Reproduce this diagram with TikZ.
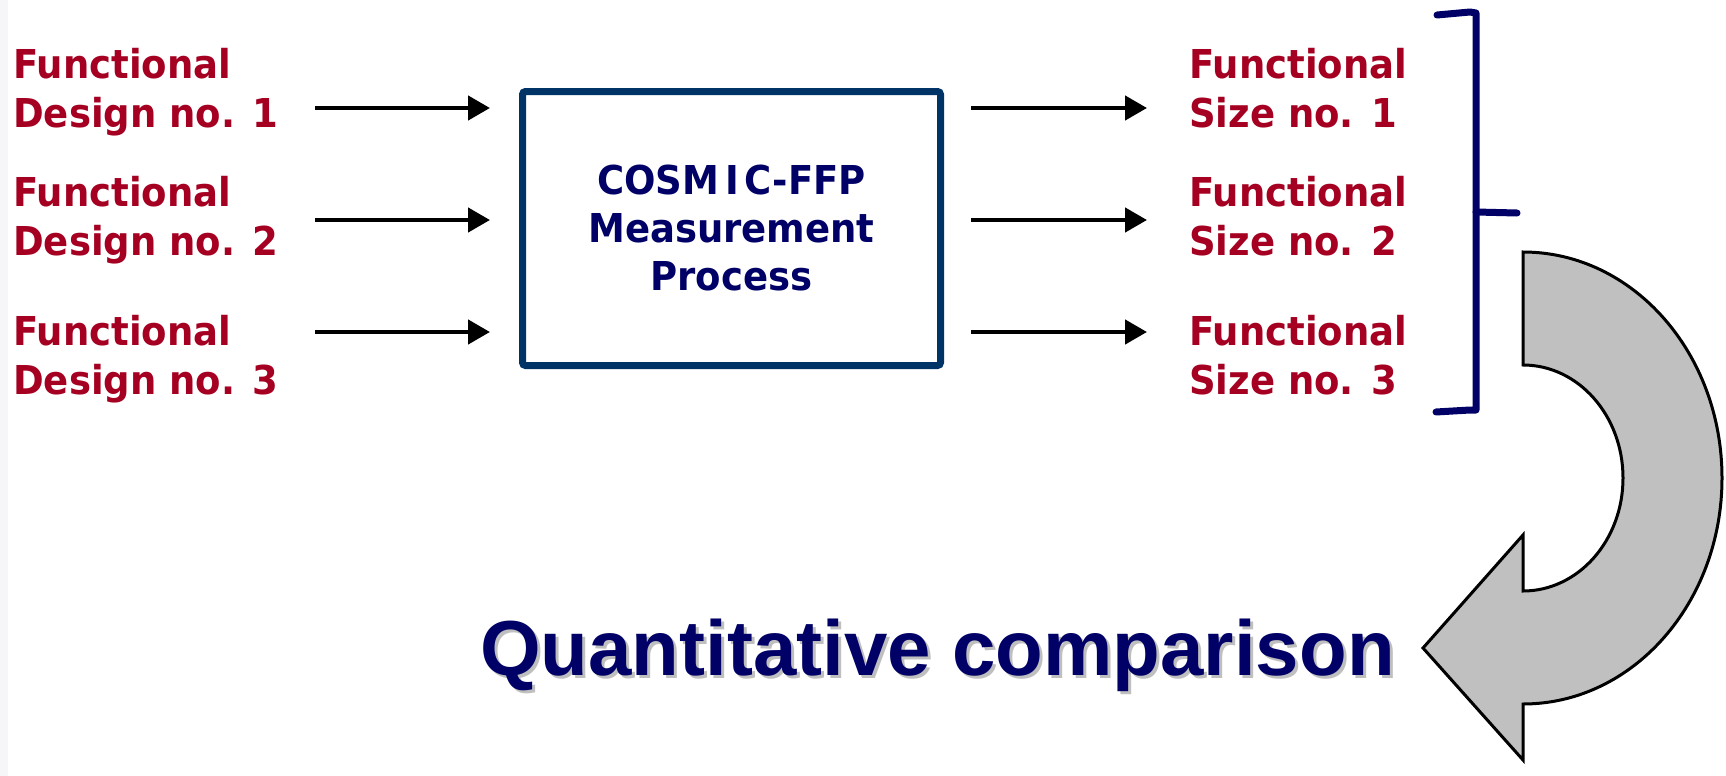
\documentclass[tikz,border=0pt]{standalone}
\usepackage{fontspec}
\usetikzlibrary{arrows.meta}
\newfontfamily\lblfont{DejaVu Sans}[FakeStretch=0.93]
\newfontfamily\bigfont{Liberation Sans}
\definecolor{lblred}{RGB}{165,0,33}
\definecolor{navy}{RGB}{0,0,102}
\definecolor{boxblue}{RGB}{0,51,102}
\definecolor{arrowgray}{RGB}{192,192,192}
\definecolor{edgegray}{RGB}{246,246,248}
\tikzset{
  lbl/.style={anchor=north west, inner sep=0pt, align=left, text=lblred,
    font=\lblfont\bfseries\fontsize{39.8}{49}\selectfont},
  procbox/.style={draw=boxblue, line width=7pt, rounded corners=3pt,
    minimum width=418pt, minimum height=274pt, inner sep=0pt, align=center,
    text=navy, font=\lblfont\bfseries\fontsize{39.8}{48}\selectfont},
  flow/.style={line width=4.5pt, -{Triangle[length=22pt,width=24pt]}},
  brace/.style={draw=navy, line width=7pt, line cap=round, line join=round},
  bigarrow/.style={draw=black, line width=3pt, fill=arrowgray, line join=miter},
  bigtext/.style={anchor=base west, inner sep=0pt,
    font=\bigfont\bfseries\fontsize{78}{90}\selectfont}
}
\begin{document}
\begin{tikzpicture}[x=1pt,y=-1pt]
\useasboundingbox (0,0) rectangle (1726,776);
\fill[white] (0,0) rectangle (1726,776);
\fill[edgegray] (0,0) rectangle (8,776);

% inputs
\node[lbl] (d1) at (13,48) {Functional\\Design no. 1};
\node[lbl] (d2) at (13,176) {Functional\\Design no. 2};
\node[lbl] (d3) at (13,315) {Functional\\Design no. 3};

% measurement process
\node[procbox] (box) at (731.5,228.5) {COSM\kern6pt I\kern6pt C-FFP\\Measurement\\Process};

% outputs
\node[lbl] (s1) at (1189,48) {Functional\\Size no. 1};
\node[lbl] (s2) at (1189,176) {Functional\\Size no. 2};
\node[lbl] (s3) at (1189,315) {Functional\\Size no. 3};

% arrow end points
\coordinate (in1) at (315,108);
\coordinate (in2) at (315,220);
\coordinate (in3) at (315,332);
\coordinate (out1) at (1147,108);
\coordinate (out2) at (1147,220);
\coordinate (out3) at (1147,332);

\foreach \i in {1,2,3} {
  \draw[flow, shorten >=29pt] (in\i) -- (in\i -| box.west);
  \draw[flow, shorten <=27pt] (out\i -| box.east) -- (out\i);
}

% bracket grouping the sizes
\coordinate (bt) at (1476,13);
\coordinate (bb) at (1476,410);
\coordinate (bm) at (1476,212);
\coordinate (btip) at (1517,213);
\draw[brace] (1437,15) -- (1470,12) -- (bt) -- (bb) -- (1470,410) -- (1436,412);
\draw[brace] (bm) -- (btip);

% curved arrow
\draw[bigarrow] (1523,252)
  arc[start angle=-90, end angle=90, x radius=199, y radius=226]
  -- (1523,760) -- (1423,648) -- (1523,535) -- (1523,591)
  arc[start angle=90, end angle=-90, x radius=100, y radius=113]
  -- cycle;

% result
\node[bigtext, text=black!25] (qshadow) at (483,678) {Quantitative comparison};
\node[bigtext, text=navy] (qtext) at (480,675) {Quantitative comparison};
\end{tikzpicture}
\end{document}
